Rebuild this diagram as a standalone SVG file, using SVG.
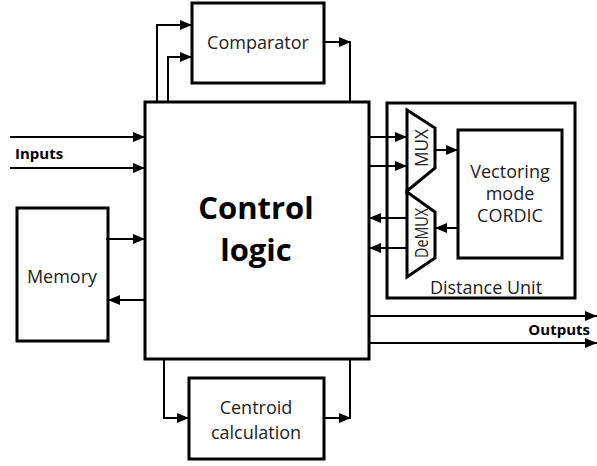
<svg xmlns="http://www.w3.org/2000/svg" width="597" height="466" viewBox="0 0 597 466">
<style>
.box{fill:#fff;stroke:#000;stroke-width:3}
.ln{fill:none;stroke:#000;stroke-width:2}
.t{font-family:"Open Sans","Noto Sans",sans-serif;font-size:18px;fill:#222;text-anchor:middle}
.b{font-family:"Open Sans","Noto Sans",sans-serif;font-weight:bold;fill:#000}
</style>
<defs>
<marker id="ah" markerUnits="userSpaceOnUse" markerWidth="12" markerHeight="12" refX="12" refY="6" orient="auto">
<path d="M0,1 L12,6 L0,11 Z" fill="#000"/>
</marker>
</defs>
<g id="comparator">
<rect class="box" x="192" y="3" width="132" height="80"/>
<text class="t" x="258" y="49">Comparator</text>
</g>
<g id="control-logic">
<rect class="box" x="145" y="102" width="224" height="257"/>
<text class="b" x="256" y="219" font-size="31" text-anchor="middle">Control</text>
<text class="b" x="256" y="261" font-size="31" text-anchor="middle">logic</text>
</g>
<g id="memory">
<rect class="box" x="17" y="208" width="91" height="133"/>
<text class="t" x="62" y="283">Memory</text>
</g>
<g id="centroid">
<rect class="box" x="189" y="378" width="135" height="81"/>
<text class="t" x="256" y="414">Centroid</text>
<text class="t" x="256" y="439">calculation</text>
</g>
<g id="distance-unit">
<rect class="box" x="387" y="103" width="188" height="195"/>
<text class="t" x="486" y="294">Distance Unit</text>
</g>
<g id="mux">
<path class="box" stroke-width="2" d="M407,110 L435,128 L435,168 L407,191 Z"/>
<text class="t" font-size="16" textLength="38" lengthAdjust="spacingAndGlyphs" transform="translate(428,148) rotate(-90)">MUX</text>
</g>
<g id="demux">
<path class="box" stroke-width="2" d="M407,192 L435,212 L435,258 L407,277 Z"/>
<text class="t" font-size="16" textLength="50" lengthAdjust="spacingAndGlyphs" transform="translate(428,233) rotate(-90)">DeMUX</text>
</g>
<g id="cordic">
<rect class="box" x="458" y="130" width="104" height="128"/>
<text class="t" font-size="17" x="510" y="178">Vectoring</text>
<text class="t" font-size="17" x="510" y="200">mode</text>
<text class="t" font-size="17" x="510" y="222">CORDIC</text>
</g>
<g id="io-labels">
<text class="b" x="15" y="159" font-size="15">Inputs</text>
<text class="b" x="590" y="335" font-size="15" text-anchor="end">Outputs</text>
</g>
<g id="connectors">
<path class="ln" d="M157,102 V25 H192" marker-end="url(#ah)"/>
<path class="ln" d="M168,102 V57 H192" marker-end="url(#ah)"/>
<path class="ln" d="M324,42 H351" marker-end="url(#ah)"/>
<path class="ln" d="M350,42 V102"/>
<path class="ln" d="M164,359 V418 H189" marker-end="url(#ah)"/>
<path class="ln" d="M324,418 H351" marker-end="url(#ah)"/>
<path class="ln" d="M350,418 V359"/>
<path class="ln" d="M10,137 H145" marker-end="url(#ah)"/>
<path class="ln" d="M10,168 H145" marker-end="url(#ah)"/>
<path class="ln" d="M106,239 H145" marker-end="url(#ah)"/>
<path class="ln" d="M145,300 H108" marker-end="url(#ah)"/>
<path class="ln" d="M369,137 H407" marker-end="url(#ah)"/>
<path class="ln" d="M369,166 H407" marker-end="url(#ah)"/>
<path class="ln" d="M407,218 H369" marker-end="url(#ah)"/>
<path class="ln" d="M407,248 H369" marker-end="url(#ah)"/>
<path class="ln" d="M435,150 H458" marker-end="url(#ah)"/>
<path class="ln" d="M458,228 H435" marker-end="url(#ah)"/>
<path class="ln" d="M369,316 H597" marker-end="url(#ah)"/>
<path class="ln" d="M369,343 H597" marker-end="url(#ah)"/>
</g>
</svg>
